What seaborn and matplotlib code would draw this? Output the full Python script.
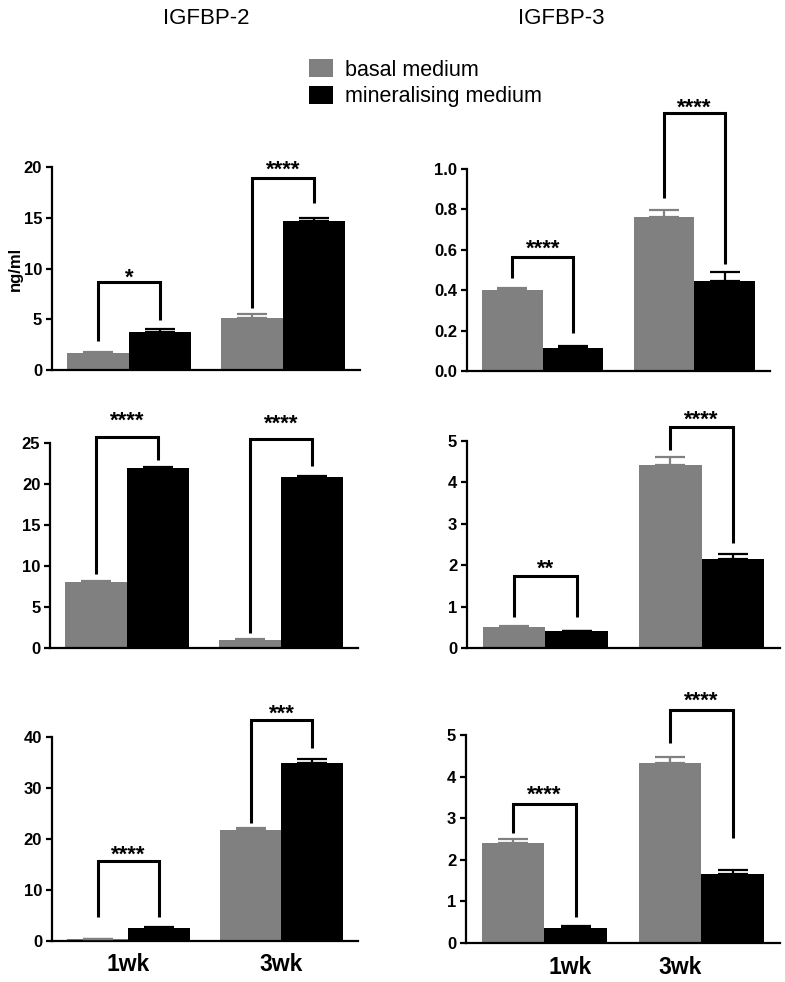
import pandas as pd
import matplotlib
matplotlib.use("Agg")
import matplotlib.pyplot as plt
import matplotlib.transforms as mtransforms
from matplotlib.patches import Patch
import seaborn as sns


# -----------------------------
# Data
# -----------------------------
weeks = ["1wk", "3wk"]
media = ["basal medium", "mineralising medium"]
titles = ["IGFBP-2", "IGFBP-3"]

# panel order: row by row, left = IGFBP-2, right = IGFBP-3
basal_means = [[1.7, 5.1], [0.40, 0.76], [8.1, 1.0], [0.51, 4.42], [0.3, 21.8], [2.4, 4.33]]
basal_errs = [[0.05, 0.4], [0.01, 0.035], [0.05, 0.05], [0.01, 0.2], [0.05, 0.3], [0.1, 0.15]]
mineral_means = [[3.7, 14.7], [0.115, 0.445], [22.0, 20.8], [0.41, 2.15], [2.6, 34.9], [0.37, 1.66]]
mineral_errs = [[0.35, 0.3], [0.01, 0.045], [0.05, 0.2], [0.01, 0.13], [0.1, 0.8], [0.03, 0.1]]

y_max = [20, 1.0, 25, 5, 40, 5]
y_step = [5, 0.2, 5, 1, 10, 1]

# significance brackets per panel and week: (top, left leg end, right leg end, star height)
bracket_1wk = [(8.7, 2.9, 4.9, 9.8), (0.564, 0.46, 0.19, 0.64), (25.7, 9.0, 22.9, 28.6),
               (1.74, 0.75, 0.75, 2.1), (15.7, 4.7, 4.7, 18.4), (3.34, 2.64, 0.62, 3.73)]
bracket_3wk = [(18.9, 6.1, 16.5, 20.4), (1.277, 0.856, 0.53, 1.34), (25.5, 1.8, 22.2, 28.2),
               (5.34, 4.78, 2.53, 5.7), (43.3, 23.1, 37.8, 45.9), (5.6, 4.8, 2.52, 6.0)]
stars_1wk = ["*", "****", "****", "**", "****", "****"]
stars_3wk = ["****", "****", "****", "****", "***", "****"]

colors = ["#808080", "#000000"]

# axes rectangles in figure fractions (left, bottom, width, height)
rects = [
    (0.0662, 0.6232, 0.3924, 0.2067), (0.5949, 0.6222, 0.3860, 0.2057),
    (0.0637, 0.3401, 0.3924, 0.2088), (0.5949, 0.3401, 0.3987, 0.2108),
    (0.0662, 0.0418, 0.3898, 0.2077), (0.5936, 0.0397, 0.4000, 0.2118),
]

sns.set_theme(style="ticks")
plt.rcParams["font.family"] = ["Liberation Sans", "DejaVu Sans"]
plt.rcParams.update({
    "axes.linewidth": 1.6,
    "axes.edgecolor": "black",
    "text.color": "black",
    "axes.labelcolor": "black",
    "xtick.color": "black",
    "ytick.color": "black",
})

fig = plt.figure(figsize=(7.85, 9.82), dpi=100)

for i in range(6):
    ax = fig.add_axes(rects[i])
    df = pd.DataFrame({
        "week": weeks + weeks,
        "medium": [media[0]] * 2 + [media[1]] * 2,
        "value": basal_means[i] + mineral_means[i],
    })
    sns.barplot(data=df, x="week", y="value", hue="medium", order=weeks,
                hue_order=media, palette=colors, saturation=1, errorbar=None,
                width=0.8, legend=False, edgecolor="none", linewidth=0, ax=ax)

    bars = list(ax.containers)
    errs = [basal_errs[i], mineral_errs[i]]
    for k, cont in enumerate(bars):
        for j, bar in enumerate(cont):
            x = bar.get_x() + bar.get_width() / 2
            ax.errorbar(x, bar.get_height(), yerr=[[0], [errs[k][j]]],
                        color=colors[k], capsize=11, elinewidth=1.6,
                        capthick=1.6, clip_on=False, zorder=3)

    # brackets
    for j, (br, st) in enumerate([(bracket_1wk[i], stars_1wk[i]),
                                  (bracket_3wk[i], stars_3wk[i])]):
        top, yl, yr, ys = br
        x0 = bars[0][j].get_x() + bars[0][j].get_width() / 2
        x1 = bars[1][j].get_x() + bars[1][j].get_width() / 2
        ax.plot([x0, x0, x1, x1], [yl, top, top, yr], color="black", lw=2.2,
                clip_on=False, solid_joinstyle="miter", solid_capstyle="butt")
        ax.annotate(st, xy=((x0 + x1) / 2, ys), xytext=(0, -9.5),
                    textcoords="offset points", ha="center", va="baseline",
                    fontsize=16, fontweight="bold", annotation_clip=False)

    ax.set_xlim(-0.5, 1.5)
    ax.set_ylim(0, y_max[i])
    ticks = [y_step[i] * n for n in range(int(round(y_max[i] / y_step[i])) + 1)]
    ax.set_yticks(ticks)
    if i == 1:
        ax.set_yticklabels([f"{t:.1f}" for t in ticks])
    else:
        ax.set_yticklabels([f"{t:g}" for t in ticks])
    for lab in ax.get_yticklabels():
        lab.set_fontweight("bold")
    ax.tick_params(axis="y", length=4, width=1.6, labelsize=12, pad=3)
    ax.set_xlabel("")
    ax.set_ylabel("")
    sns.despine(ax=ax)

    if i >= 4:
        ax.tick_params(axis="x", length=0, labelsize=16.5, pad=9)
        for lab in ax.get_xticklabels():
            lab.set_fontweight("bold")
        if i == 5:
            # the right column labels sit a little off the groups in the original
            for lab, dx in zip(ax.get_xticklabels(), [0.26, -0.21]):
                lab.set_transform(lab.get_transform() +
                                  mtransforms.ScaledTranslation(dx, 0, fig.dpi_scale_trans))
    else:
        ax.tick_params(axis="x", length=0, labelbottom=False)

    if i == 0:
        ax.set_ylabel("ng/ml", fontsize=12, fontweight="bold")
        ax.yaxis.set_label_coords(-0.094, 0.5)

fig.text(206 / 785, 1 - 18 / 982, titles[0], ha="center", va="center", fontsize=16)
fig.text(561 / 785, 1 - 18 / 982, titles[1], ha="center", va="center", fontsize=16)

handles = [Patch(facecolor=c, edgecolor="none") for c in colors]
fig.legend(handles, media, loc="upper left", bbox_to_anchor=(309 / 785, 1 - 59 / 982),
           frameon=False, fontsize=15.5, handlelength=1.1, handleheight=0.93,
           handletextpad=0.55, labelspacing=0.25, borderpad=0, borderaxespad=0)

fig.savefig("out.png", dpi=100)
